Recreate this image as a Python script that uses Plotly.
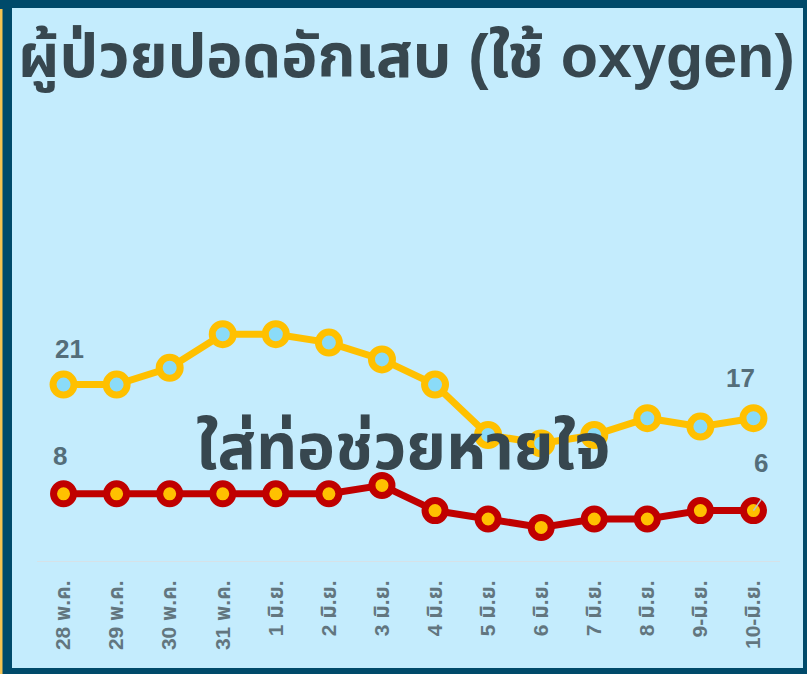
import plotly.graph_objects as go

# ---- data ----
dates = ["28 พ.ค.", "29 พ.ค.", "30 พ.ค.", "31 พ.ค.", "1 มิ.ย.", "2 มิ.ย.", "3 มิ.ย.",
         "4 มิ.ย.", "5 มิ.ย.", "6 มิ.ย.", "7 มิ.ย.", "8 มิ.ย.", "9-มิ.ย.", "10-มิ.ย."]
oxygen = [21, 21, 23, 27, 27, 26, 24, 21, 15, 14, 15, 17, 16, 17]
intubated = [8, 8, 8, 8, 8, 8, 9, 6, 5, 4, 5, 5, 6, 6]

title_text = "ผู้ป่วยปอดอักเสบ (ใช้ oxygen)"
mid_text = "ใส่ท่อช่วยหายใจ"

NAVY = "#004a6a"
BG = "#c4ecfd"
YEL = "#ffc000"
RED = "#c00000"
SKY = "#8adbf8"
TXT = "#37474f"
LBL = "#546e7a"
FONT = "Liberation Sans, Noto Sans Thai, Arial, sans-serif"

xi = list(range(len(dates)))

fig = go.Figure()
fig.add_trace(go.Scatter(
    x=xi, y=oxygen, mode="lines+markers",
    line=dict(color=YEL, width=7),
    marker=dict(size=21, color=SKY, line=dict(color=YEL, width=7)),
    hoverinfo="skip", showlegend=False))
fig.add_trace(go.Scatter(
    x=xi, y=intubated, mode="lines+markers",
    line=dict(color=RED, width=7),
    marker=dict(size=20, color=YEL, line=dict(color=RED, width=7)),
    hoverinfo="skip", showlegend=False))

# plot area geometry (pixels)
W, H = 807, 674
L, R = 37, 780
T, B = 99, 561
pw, ph = R - L, B - T


def px(xp):
    return (xp - L) / pw


def py(yp):
    return (B - yp) / ph


shapes = [
    dict(type="rect", xref="paper", yref="paper", x0=px(0), x1=px(W), y0=py(H), y1=py(0),
         fillcolor=NAVY, line=dict(width=0), layer="below"),
    dict(type="rect", xref="paper", yref="paper", x0=px(0), x1=px(2.5), y0=py(H), y1=py(9),
         fillcolor="#f5c351", line=dict(width=0), layer="below"),
    dict(type="rect", xref="paper", yref="paper", x0=px(12), x1=px(803), y0=py(668), y1=py(8),
         fillcolor=BG, line=dict(width=0), layer="below"),
]

annotations = [
    dict(text=f"<b>{title_text}</b>", xref="paper", yref="paper", x=px(406), y=py(57),
         xanchor="center", yanchor="middle", showarrow=False,
         font=dict(size=61, color=TXT, family=FONT)),
    dict(text=f"<b>{mid_text}</b>", xref="paper", yref="paper", x=px(403), y=py(447),
         xanchor="center", yanchor="middle", showarrow=False,
         font=dict(size=64, color=TXT, family=FONT)),
    dict(text=f"<b>{oxygen[0]}</b>", x=0, y=oxygen[0], xshift=6, yshift=36, showarrow=False,
         font=dict(size=26, color=LBL, family=FONT)),
    dict(text=f"<b>{intubated[0]}</b>", x=0, y=intubated[0], xshift=-4, yshift=38, showarrow=False,
         font=dict(size=26, color=LBL, family=FONT)),
    dict(text=f"<b>{oxygen[-1]}</b>", x=len(dates) - 1, y=oxygen[-1], xshift=-13, yshift=40,
         showarrow=False, font=dict(size=26, color=LBL, family=FONT)),
    dict(text=f"<b>{intubated[-1]}</b>", x=len(dates) - 1, y=intubated[-1], xshift=8, yshift=48,
         showarrow=False, font=dict(size=26, color=LBL, family=FONT)),
    # small leader line from the last red point
    dict(text="", x=len(dates) - 1, y=intubated[-1], showarrow=True, ax=9, ay=-13,
         arrowhead=0, arrowwidth=1.5, arrowcolor="#b8c4ca", standoff=0, startstandoff=0),
]

fig.update_layout(
    width=W, height=H,
    margin=dict(l=L, r=W - R, t=T, b=H - B),
    paper_bgcolor=BG, plot_bgcolor="rgba(0,0,0,0)",
    shapes=shapes, annotations=annotations,
    xaxis=dict(range=[-0.5, len(dates) - 0.5], tickmode="array", tickvals=xi,
               ticktext=[f"<b>{d}</b>" for d in dates],
               tickangle=-90, showgrid=False, zeroline=False, showline=True,
               linecolor="#d6e2e8", linewidth=1, ticks="", ticklabelstandoff=10,
               tickfont=dict(size=21, color="#62767f", family=FONT)),
    yaxis=dict(range=[0, ph / 8.4], showgrid=False, zeroline=False, showticklabels=False,
               showline=False),
)

fig.write_html("out.html", config={"displayModeBar": False},
               post_script="document.body.style.margin='0';document.body.style.overflow='hidden';")
